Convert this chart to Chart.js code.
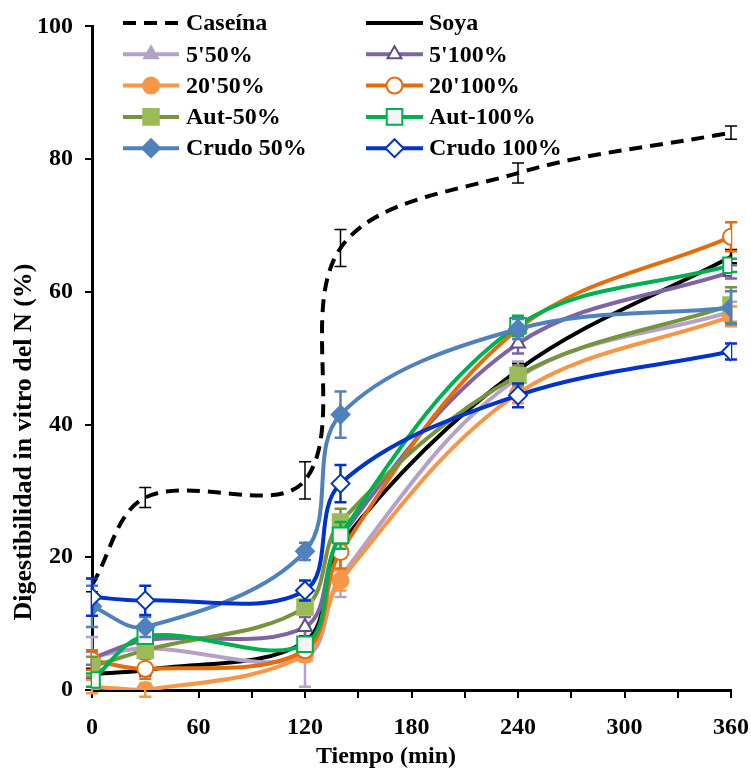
<!DOCTYPE html>
<html>
<head>
<meta charset="utf-8">
<script src="https://cdn.jsdelivr.net/npm/chart.js@4.4.1/dist/chart.umd.min.js"></script>
<style>
  html,body{margin:0;padding:0;background:#fff;}
  #wrap{width:751px;height:771px;position:relative;}
</style>
</head>
<body>
<div id="wrap"><canvas id="chart" width="751" height="771"></canvas></div>
<script>
// tiempos (min)
let tiempos=[0,30,120,140,240,360];

// digestibilidad (%) por tratamiento
let caseina =[15.8,29.0,31.6,66.6,77.9,84.0];
let soya    =[2.4,3.0,7.3,22.0,48.2,65.3];
let t5_50   =[5.0,6.3,5.0,17.0,47.0,57.0];
let t5_100  =[4.8,7.5,9.5,23.0,52.2,63.0];
let t20_50  =[0.5,0.0,5.3,16.5,44.7,56.3];
let t20_100 =[4.5,3.2,6.0,20.8,54.4,68.3];
let aut50   =[3.5,6.0,12.5,25.3,47.4,58.0];
let aut100  =[1.5,8.1,6.9,23.3,54.9,64.0];
let crudo50 =[12.6,9.5,20.9,41.5,54.4,57.6];
let crudo100=[14.0,13.5,15.0,31.1,44.4,51.0];

// desviaciones (barras de error)
let errCaseina =[1.0,1.5,2.8,2.8,1.5,1.0];
let errSoya    =[0.8,0.8,0.8,1.0,1.0,1.0];
let err5_50    =[3.0,1.0,4.5,3.0,2.5,1.5];
let err5_100   =[1.0,1.0,1.5,2.0,1.5,1.0];
let err20_50   =[1.0,1.0,1.0,1.5,1.5,1.5];
let err20_100  =[1.5,1.5,1.0,2.5,1.5,2.2];
let errAut50   =[1.5,1.0,1.0,2.0,1.5,2.7];
let errAut100  =[1.0,1.0,1.0,2.0,1.5,1.0];
let errCrudo50 =[3.1,1.5,1.3,3.5,1.5,2.5];
let errCrudo100=[2.8,2.2,1.5,2.8,1.8,1.2];

let xTicks=[0,60,120,180,240,300,360];
let yTicks=[0,20,40,60,80,100];

const FONT='"Liberation Serif","Times New Roman",serif';

function pts(vals){
    return vals.map((v,i)=>({x:tiempos[i],y:v}));
}

function serie(label,vals,err,color,opts){
    return Object.assign({
        label:label,
        data:pts(vals),
        err:err,
        borderColor:color,
        backgroundColor:color,
        borderWidth:4,
        pointRadius:0,
        pointBorderWidth:2,
        pointBorderColor:color,
        pointBackgroundColor:color,
        errColor:color,
        errWidth:2.5,
        tension:0.35,
        fill:false
    },opts||{});
}

let datasets=[
    serie("Caseína",caseina,errCaseina,"#000000",{borderDash:[13,8],errWidth:1.5}),
    serie("Soya",soya,errSoya,"#000000"),
    serie("5'50%",t5_50,err5_50,"#B3A2C7",{pointStyle:"triangle",pointRadius:8}),
    serie("5'100%",t5_100,err5_100,"#8064A2",{pointStyle:"triangle",pointRadius:8,pointBackgroundColor:"#ffffff",pointBorderColor:"#5F4B8B"}),
    serie("20'50%",t20_50,err20_50,"#F79646",{pointStyle:"circle",pointRadius:8}),
    serie("20'100%",t20_100,err20_100,"#E46C0A",{pointStyle:"circle",pointRadius:8,pointBackgroundColor:"#ffffff"}),
    serie("Aut-50%",aut50,errAut50,"#77933C",{pointStyle:"rect",pointRadius:11,pointBackgroundColor:"#9BBB59",pointBorderColor:"#9BBB59"}),
    serie("Aut-100%",aut100,errAut100,"#00B050",{pointStyle:"rect",pointRadius:11,pointBackgroundColor:"#F5F5F5"}),
    serie("Crudo 50%",crudo50,errCrudo50,"#4F81BD",{pointStyle:"rectRot",pointRadius:9}),
    serie("Crudo 100%",crudo100,errCrudo100,"#0033CC",{pointStyle:"rectRot",pointRadius:9,pointBackgroundColor:"#ffffff"})
];
// excel pinta la ultima serie encima
datasets.forEach((d,i)=>{d.order=datasets.length-i;});

// barras de error
const errorBars={
    id:"errorBars",
    beforeDatasetDraw(chart,args){
        let ds=chart.data.datasets[args.index];
        if(!ds.err) return;
        let xs=chart.scales.x, ys=chart.scales.y, ctx=chart.ctx;
        ctx.save();
        ctx.strokeStyle=ds.errColor;
        ctx.lineWidth=ds.errWidth;
        ctx.setLineDash([]);
        for(let i=0;i<ds.data.length;i++){
            let px=xs.getPixelForValue(ds.data[i].x);
            let top=ys.getPixelForValue(ds.data[i].y+ds.err[i]);
            let bot=ys.getPixelForValue(ds.data[i].y-ds.err[i]);
            let w=6;
            ctx.beginPath();
            ctx.moveTo(px,top);ctx.lineTo(px,bot);
            ctx.moveTo(px-w,top);ctx.lineTo(px+w,top);
            ctx.moveTo(px-w,bot);ctx.lineTo(px+w,bot);
            ctx.stroke();
        }
        ctx.restore();
    }
};

// leyenda en dos columnas dentro del grafico + titulos de ejes
const legendBox={
    id:"legendBox",
    afterDraw(chart){
        let ctx=chart.ctx;
        let cols=[{x1:123,x2:179,tx:186},{x1:366,x2:423,tx:429}];
        ctx.save();
        chart.data.datasets.forEach((ds,i)=>{
            let c=cols[i%2];
            let y=23+Math.floor(i/2)*31.3;
            ctx.strokeStyle=ds.borderColor;
            ctx.lineWidth=4;
            ctx.setLineDash(ds.borderDash||[]);
            ctx.beginPath();
            ctx.moveTo(c.x1,y);ctx.lineTo(c.x2,y);
            ctx.stroke();
            ctx.setLineDash([]);
            if(ds.pointStyle){
                ctx.fillStyle=ds.pointBackgroundColor;
                ctx.strokeStyle=ds.pointBorderColor;
                ctx.lineWidth=2;
                Chart.helpers.drawPoint(ctx,{pointStyle:ds.pointStyle,radius:ds.pointRadius,rotation:0,borderWidth:2},(c.x1+c.x2)/2,y);
            }
            ctx.fillStyle="#000";
            ctx.font="bold 24px "+FONT;
            ctx.textBaseline="middle";
            ctx.textAlign="left";
            ctx.fillText(ds.label,c.tx,y+1);
        });

        // titulos
        ctx.fillStyle="#000";
        ctx.textAlign="center";
        ctx.textBaseline="middle";
        ctx.font="bold 24px "+FONT;
        ctx.fillText("Tiempo (min)",386,757);
        ctx.translate(24,442);
        ctx.rotate(-Math.PI/2);
        ctx.font="bold 26px "+FONT;
        ctx.fillText("Digestibilidad in vitro del N (%)",0,0);
        ctx.restore();
    }
};

new Chart(document.getElementById("chart"),{
    type:"line",
    data:{datasets:datasets},
    plugins:[errorBars,legendBox],
    options:{
        responsive:false,
        animation:false,
        events:[],
        layout:{padding:{top:25,right:20,left:0,bottom:0}},
        plugins:{legend:{display:false},tooltip:{enabled:false}},
        scales:{
            x:{
                type:"linear",
                min:0,max:360,
                afterFit:function(scale){
                    scale.height=81;
                    scale.paddingLeft=0;
                    scale.paddingRight=0;
                },
                afterBuildTicks:function(scale){
                    let t=[];
                    for(let v=0;v<=360;v+=30) t.push({value:v});
                    scale.ticks=t;
                },
                ticks:{
                    autoSkip:false,
                    maxRotation:0,
                    color:"#000",
                    padding:15,
                    font:{family:FONT,size:24,weight:"bold"},
                    callback:function(v){return xTicks.includes(v)?v:"";}
                },
                grid:{drawOnChartArea:false,color:"#000",lineWidth:2,tickLength:8},
                border:{color:"#000",width:3}
            },
            y:{
                min:0,max:100,
                afterFit:function(scale){scale.width=92;},
                afterBuildTicks:function(scale){scale.ticks=yTicks.map(v=>({value:v}));},
                ticks:{
                    color:"#000",
                    padding:12,
                    font:{family:FONT,size:24,weight:"bold"}
                },
                grid:{drawOnChartArea:false,color:"#000",lineWidth:2,tickLength:7},
                border:{color:"#000",width:3}
            }
        }
    }
});
</script>
</body>
</html>
